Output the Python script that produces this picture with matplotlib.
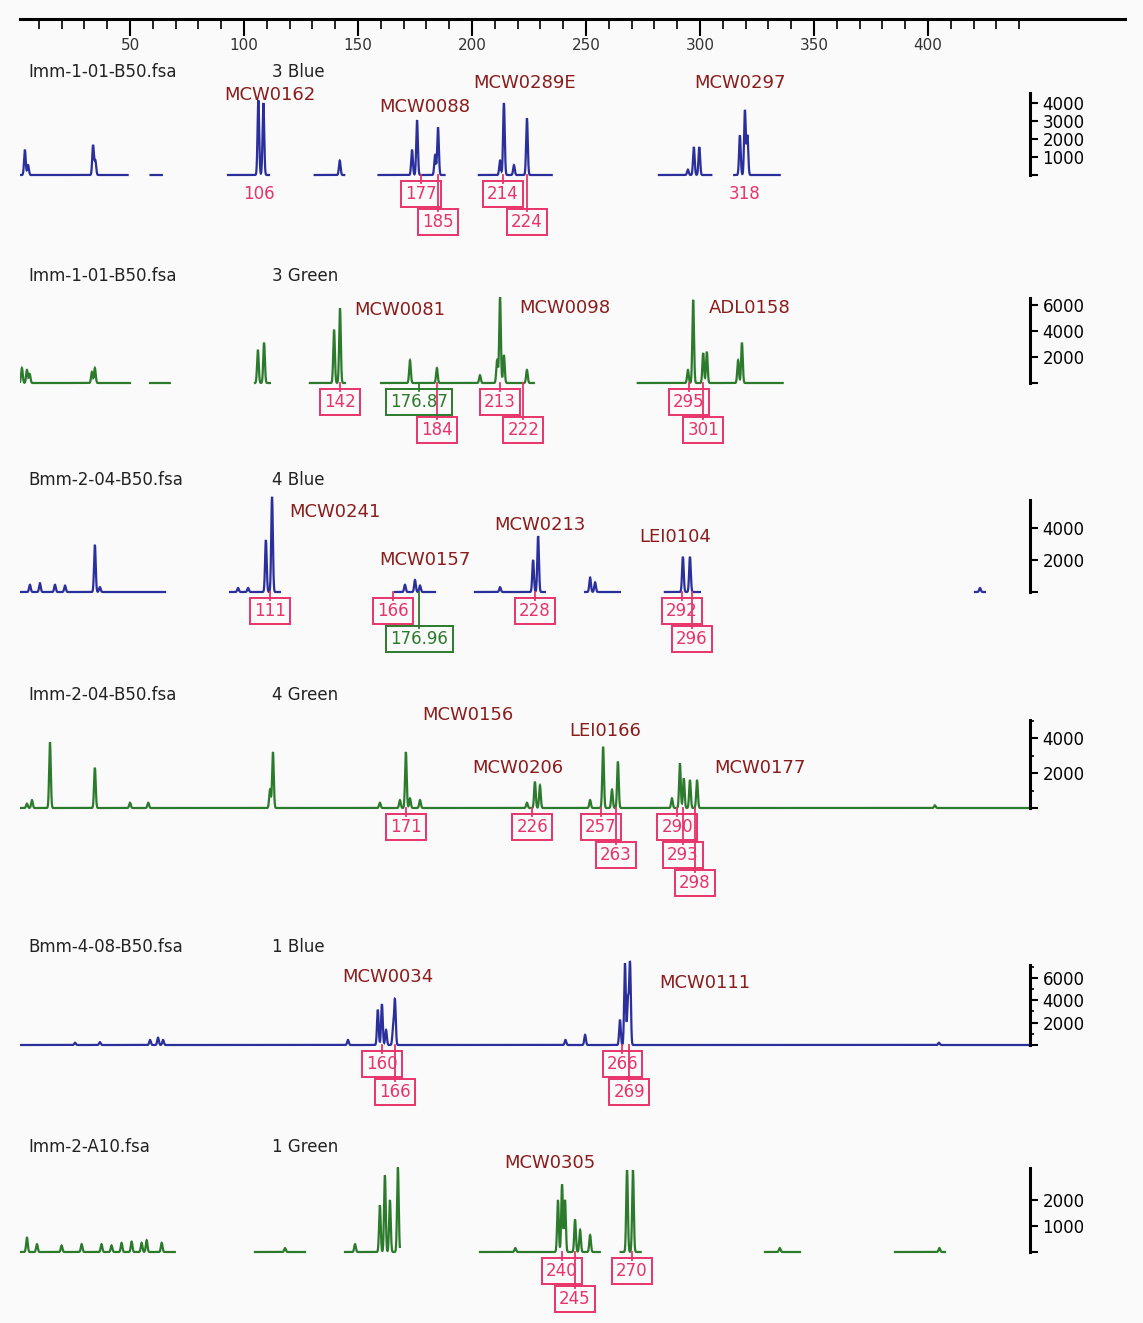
import numpy as np
import matplotlib.pyplot as plt

W, H = 1143, 1323

# size ruler (bp)
RULER_MAJOR = [50, 100, 150, 200, 250, 300, 350, 400]
RULER_MINOR = list(range(10, 441, 10))

SAMPLES = ["Imm-1-01-B50.fsa", "Imm-1-01-B50.fsa", "Bmm-2-04-B50.fsa",
           "Imm-2-04-B50.fsa", "Bmm-4-08-B50.fsa", "Imm-2-A10.fsa"]
DYES = ["3 Blue", "3 Green", "4 Blue", "4 Green", "1 Blue", "1 Green"]

# peaks: size (bp) and height (RFU)
P1_BP = [3.9, 5.3, 33.8, 34.8, 106.3, 108.5, 142.0, 173.7, 175.9, 183.8, 185.1, 212.3, 214.0,
         218.4, 224.1, 294.7, 297.3, 299.7, 317.5, 319.7, 320.8]
P1_RFU = [1400, 550, 1650, 800, 4150, 4000, 800, 1400, 3050, 1100, 2650, 800, 4000,
          550, 3150, 300, 1550, 1550, 2200, 3600, 2200]
P2_BP = [2.6, 4.8, 6.0, 33.3, 34.6, 106.1, 108.8, 139.5, 142.1, 172.8, 184.6, 203.5, 211.0,
         212.3, 214.0, 224.1, 294.7, 297.0, 301.4, 303.0, 316.7, 318.4]
P2_RFU = [1150, 1000, 700, 850, 1150, 2550, 3100, 4100, 5750, 1750, 1150, 600, 1750,
          6600, 2150, 1000, 1000, 6400, 2300, 2400, 1750, 3100]
P3_BP = [6.1, 10.5, 17.1, 21.5, 34.6, 36.8, 97.4, 101.8, 109.6, 112.3, 170.6, 175.0, 177.2,
         212.3, 226.8, 229.0, 251.8, 254.0, 292.5, 295.6, 422.8]
P3_RFU = [450, 550, 450, 400, 2950, 300, 250, 250, 3250, 5950, 450, 750, 400,
          300, 2000, 3500, 900, 600, 2200, 2200, 250]
P4_BP = [4.8, 7.0, 14.9, 34.6, 50.0, 58.0, 111.4, 112.7, 159.6, 168.4, 171.0, 172.8, 177.2,
         224.1, 227.6, 229.8, 251.8, 257.5, 261.4, 264.0, 287.7, 291.2, 292.9, 295.6, 298.7, 403.0]
P4_RFU = [250, 450, 3750, 2300, 300, 300, 1050, 3200, 300, 450, 3200, 550, 450,
          300, 1500, 1300, 450, 3500, 1050, 2650, 550, 2550, 1700, 1600, 1600, 150]
P5_BP = [25.9, 36.8, 58.8, 62.3, 64.5, 145.6, 158.7, 160.5, 162.3, 165.4, 166.2, 241.0,
         249.6, 264.9, 267.1, 268.4, 269.3, 404.8]
P5_RFU = [200, 250, 450, 650, 450, 450, 3150, 3650, 1350, 1350, 4000, 450,
          900, 2250, 7300, 4000, 7300, 200]
P6_BP = [4.8, 9.2, 20.0, 28.8, 37.5, 41.9, 46.3, 50.7, 55.1, 57.3, 63.9, 118.0, 148.7,
         159.6, 161.8, 164.0, 167.5, 219.0, 237.7, 239.5, 240.8, 245.2, 247.4, 251.8,
         268.0, 270.6, 335.0, 405.0]
P6_RFU = [550, 300, 250, 300, 300, 250, 350, 400, 350, 450, 350, 150, 300,
          1800, 2950, 2000, 3250, 150, 2000, 2600, 2000, 1250, 850, 650,
          3150, 3150, 150, 150]

# size ranges where a trace is shown
P1_SEG = [(1.8, 49), (59, 64), (93, 111), (131, 144), (159, 188), (203, 235), (282, 305), (315, 335)]
P2_SEG = [(1.8, 50), (58.8, 67.5), (104.8, 111.4), (128.9, 144.3), (160.1, 227.2), (272.7, 336.3)]
P3_SEG = [(1.8, 65.4), (93.9, 115.8), (166.2, 183.8), (201.3, 232), (249.6, 264.9), (284.6, 300),
          (420.6, 425)]
P4_SEG = [(1.8, 445)]
P5_SEG = [(1.8, 445)]
P6_SEG = [(1.8, 69.7), (104.8, 126.8), (144.3, 168.4), (203.5, 256.1), (265.2, 274),
          (328.5, 343.9), (385.5, 407.5)]

# allele calls: size, label, row, kind
P1_CALLS = [(106.5, "106", 0, "plain"), (177.5, "177", 0, "box"), (185.1, "185", 1, "box"),
            (213.5, "214", 0, "box"), (224.1, "224", 1, "box"), (319.7, "318", 0, "plain")]
P2_CALLS = [(142.1, "142", 0, "box"), (176.9, "176.87", 0, "green"), (184.6, "184", 1, "box"),
            (212.3, "213", 0, "box"), (222.5, "222", 1, "box"), (295.0, "295", 0, "box"),
            (301.4, "301", 1, "box")]
P3_CALLS = [(111.4, "111", 0, "box"), (165.5, "166", 0, "box"), (176.96, "176.96", 1, "green"),
            (227.6, "228", 0, "box"), (292.0, "292", 0, "box"), (296.5, "296", 1, "box")]
P4_CALLS = [(171.0, "171", 0, "box"), (226.5, "226", 0, "box"), (256.6, "257", 0, "box"),
            (263.0, "263", 1, "box"), (290.0, "290", 0, "box"), (292.5, "293", 1, "box"),
            (297.8, "298", 2, "box")]
P5_CALLS = [(160.5, "160", 0, "box"), (166.2, "166", 1, "box"), (266.0, "266", 0, "box"),
            (269.0, "269", 1, "box")]
P6_CALLS = [(239.5, "240", 0, "box"), (245.2, "245", 1, "box"), (270.0, "270", 0, "box")]

P1_MARKERS = ["MCW0162", "MCW0088", "MCW0289E", "MCW0297"]
P2_MARKERS = ["MCW0081", "MCW0098", "ADL0158"]
P3_MARKERS = ["MCW0241", "MCW0157", "MCW0213", "LEI0104"]
P4_MARKERS = ["MCW0156", "MCW0206", "LEI0166", "MCW0177"]
P5_MARKERS = ["MCW0034", "MCW0111"]
P6_MARKERS = ["MCW0305"]

P1_YTICKS = [1000, 2000, 3000, 4000]
P2_YTICKS = [2000, 4000, 6000]
P3_YTICKS = [2000, 4000]
P4_YTICKS = [2000, 4000]
P5_YTICKS = [2000, 4000, 6000]
P6_YTICKS = [1000, 2000]

# layout (pixels): title y, baseline y, axis top y, px per 1000 RFU, marker label positions
LAYOUT = [
    dict(title=72, base=175, top=93, ppk=18.0, minor=None,
         mpos=[(270, 95), (425, 107), (525, 83), (740, 83)]),
    dict(title=276, base=383, top=298, ppk=13.0, minor=None,
         mpos=[(400, 310), (565, 308), (750, 308)]),
    dict(title=480, base=592, top=500, ppk=16.0, minor=None,
         mpos=[(335, 512), (425, 560), (540, 525), (675, 537)]),
    dict(title=695, base=808, top=720, ppk=17.5, minor=1000,
         mpos=[(468, 715), (518, 768), (605, 731), (760, 768)]),
    dict(title=947, base=1045, top=965, ppk=11.2, minor=1000,
         mpos=[(388, 977), (705, 983)]),
    dict(title=1147, base=1252, top=1168, ppk=26.0, minor=None,
         mpos=[(550, 1163)]),
]

BLUE = "#2a2f9c"
GREEN = "#2c7a2c"
CALL_RED = "#e8336b"
CALL_GREEN = "#2c7a2c"
MARKER_RED = "#8b1c1c"

# ruler calibration: 50 bp at x=130 px, 2.28 px per bp
def px2bp(px):
    return 50 + (px - 130) / 2.28

def fx(px):
    return px / W

def fy(px):
    return 1 - px / H

panels = [
    (P1_BP, P1_RFU, P1_SEG, P1_CALLS, P1_MARKERS, P1_YTICKS, BLUE),
    (P2_BP, P2_RFU, P2_SEG, P2_CALLS, P2_MARKERS, P2_YTICKS, GREEN),
    (P3_BP, P3_RFU, P3_SEG, P3_CALLS, P3_MARKERS, P3_YTICKS, BLUE),
    (P4_BP, P4_RFU, P4_SEG, P4_CALLS, P4_MARKERS, P4_YTICKS, GREEN),
    (P5_BP, P5_RFU, P5_SEG, P5_CALLS, P5_MARKERS, P5_YTICKS, BLUE),
    (P6_BP, P6_RFU, P6_SEG, P6_CALLS, P6_MARKERS, P6_YTICKS, GREEN),
]

fig = plt.figure(figsize=(W / 100, H / 100), dpi=100)
fig.patch.set_facecolor("#fafafa")

# top size ruler
rx0, rx1 = 20, 1125
ax0 = fig.add_axes([fx(rx0), fy(19), fx(rx1) - fx(rx0), fy(8) - fy(19)])
ax0.set_xlim(px2bp(rx0), px2bp(rx1))
ax0.patch.set_alpha(0)
for s in ["top", "left", "right"]:
    ax0.spines[s].set_visible(False)
ax0.spines["bottom"].set_linewidth(2.2)
ax0.set_yticks([])
ax0.set_xticks(RULER_MAJOR)
ax0.set_xticks(RULER_MINOR, minor=True)
ax0.tick_params(axis="x", which="major", direction="out", length=12, width=1.5,
                labelsize=11, labelcolor="#333333", pad=2)
ax0.tick_params(axis="x", which="minor", direction="out", length=7, width=1.2)

xmin, xmax = px2bp(20), px2bp(1030)
grid = np.arange(xmin, xmax, 0.05)

for (pbp, prfu, segs, calls, markers, yticks, color), lay, sample, dye in zip(
        panels, LAYOUT, SAMPLES, DYES):
    base, top, ppk = lay["base"], lay["top"], lay["ppk"]
    band_top, band_bot = lay["title"] - 20, base + 115

    def yd(px, base=base, ppk=ppk):
        return (base - px) / ppk * 1000

    ax = fig.add_axes([fx(20), fy(band_bot), fx(1030) - fx(20), fy(band_top) - fy(band_bot)])
    ax.set_xlim(xmin, xmax)
    ax.set_ylim(yd(band_bot), yd(band_top))
    ax.patch.set_alpha(0)

    # trace
    trace = np.zeros_like(grid)
    for p, h in zip(pbp, prfu):
        trace += h * np.exp(-0.5 * ((grid - p) / 0.36) ** 2)
    shown = np.zeros_like(grid, dtype=bool)
    for a, b in segs:
        shown |= (grid >= a) & (grid <= b)
    trace[~shown] = np.nan
    ax.plot(grid, trace, color=color, lw=1.6, solid_joinstyle="miter")

    # right RFU axis
    for s in ["top", "left", "bottom"]:
        ax.spines[s].set_visible(False)
    ax.spines["right"].set_linewidth(2.2)
    ax.spines["right"].set_bounds(0, yd(top))
    ax.yaxis.tick_right()
    ax.set_yticks([0] + yticks)
    ax.set_yticklabels([""] + [str(t) for t in yticks])
    if lay["minor"]:
        ax.set_yticks(np.arange(lay["minor"], yd(top), lay["minor"]), minor=True)
        ax.tick_params(axis="y", which="minor", length=3, width=1.2)
    ax.tick_params(axis="y", which="major", length=6, width=1.5, labelsize=12, pad=3)
    ax.set_xticks([])

    # allele calls
    for bp, lab, row, kind in calls:
        c = CALL_GREEN if kind == "green" else CALL_RED
        yc = yd(base + 19 + row * 28)
        if kind == "plain":
            ax.text(bp, yc, lab, ha="center", va="center", fontsize=12, color=c)
            continue
        ax.plot([bp, bp], [0, yd(base + 8 + row * 28)], color=c, lw=1.3)
        ax.text(bp, yc, lab, ha="center", va="center", fontsize=12, color=c,
                bbox=dict(boxstyle="square,pad=0.25", fc="none", ec=c, lw=1.4))

    # titles and marker names
    fig.text(fx(28), fy(lay["title"]), sample, ha="left", va="center", fontsize=12, color="#222222")
    fig.text(fx(272), fy(lay["title"]), dye, ha="left", va="center", fontsize=12, color="#222222")
    for name, (mx, my) in zip(markers, lay["mpos"]):
        fig.text(fx(mx), fy(my), name, ha="center", va="center", fontsize=13, color=MARKER_RED)

fig.savefig("out.png", dpi=100, facecolor=fig.get_facecolor())
